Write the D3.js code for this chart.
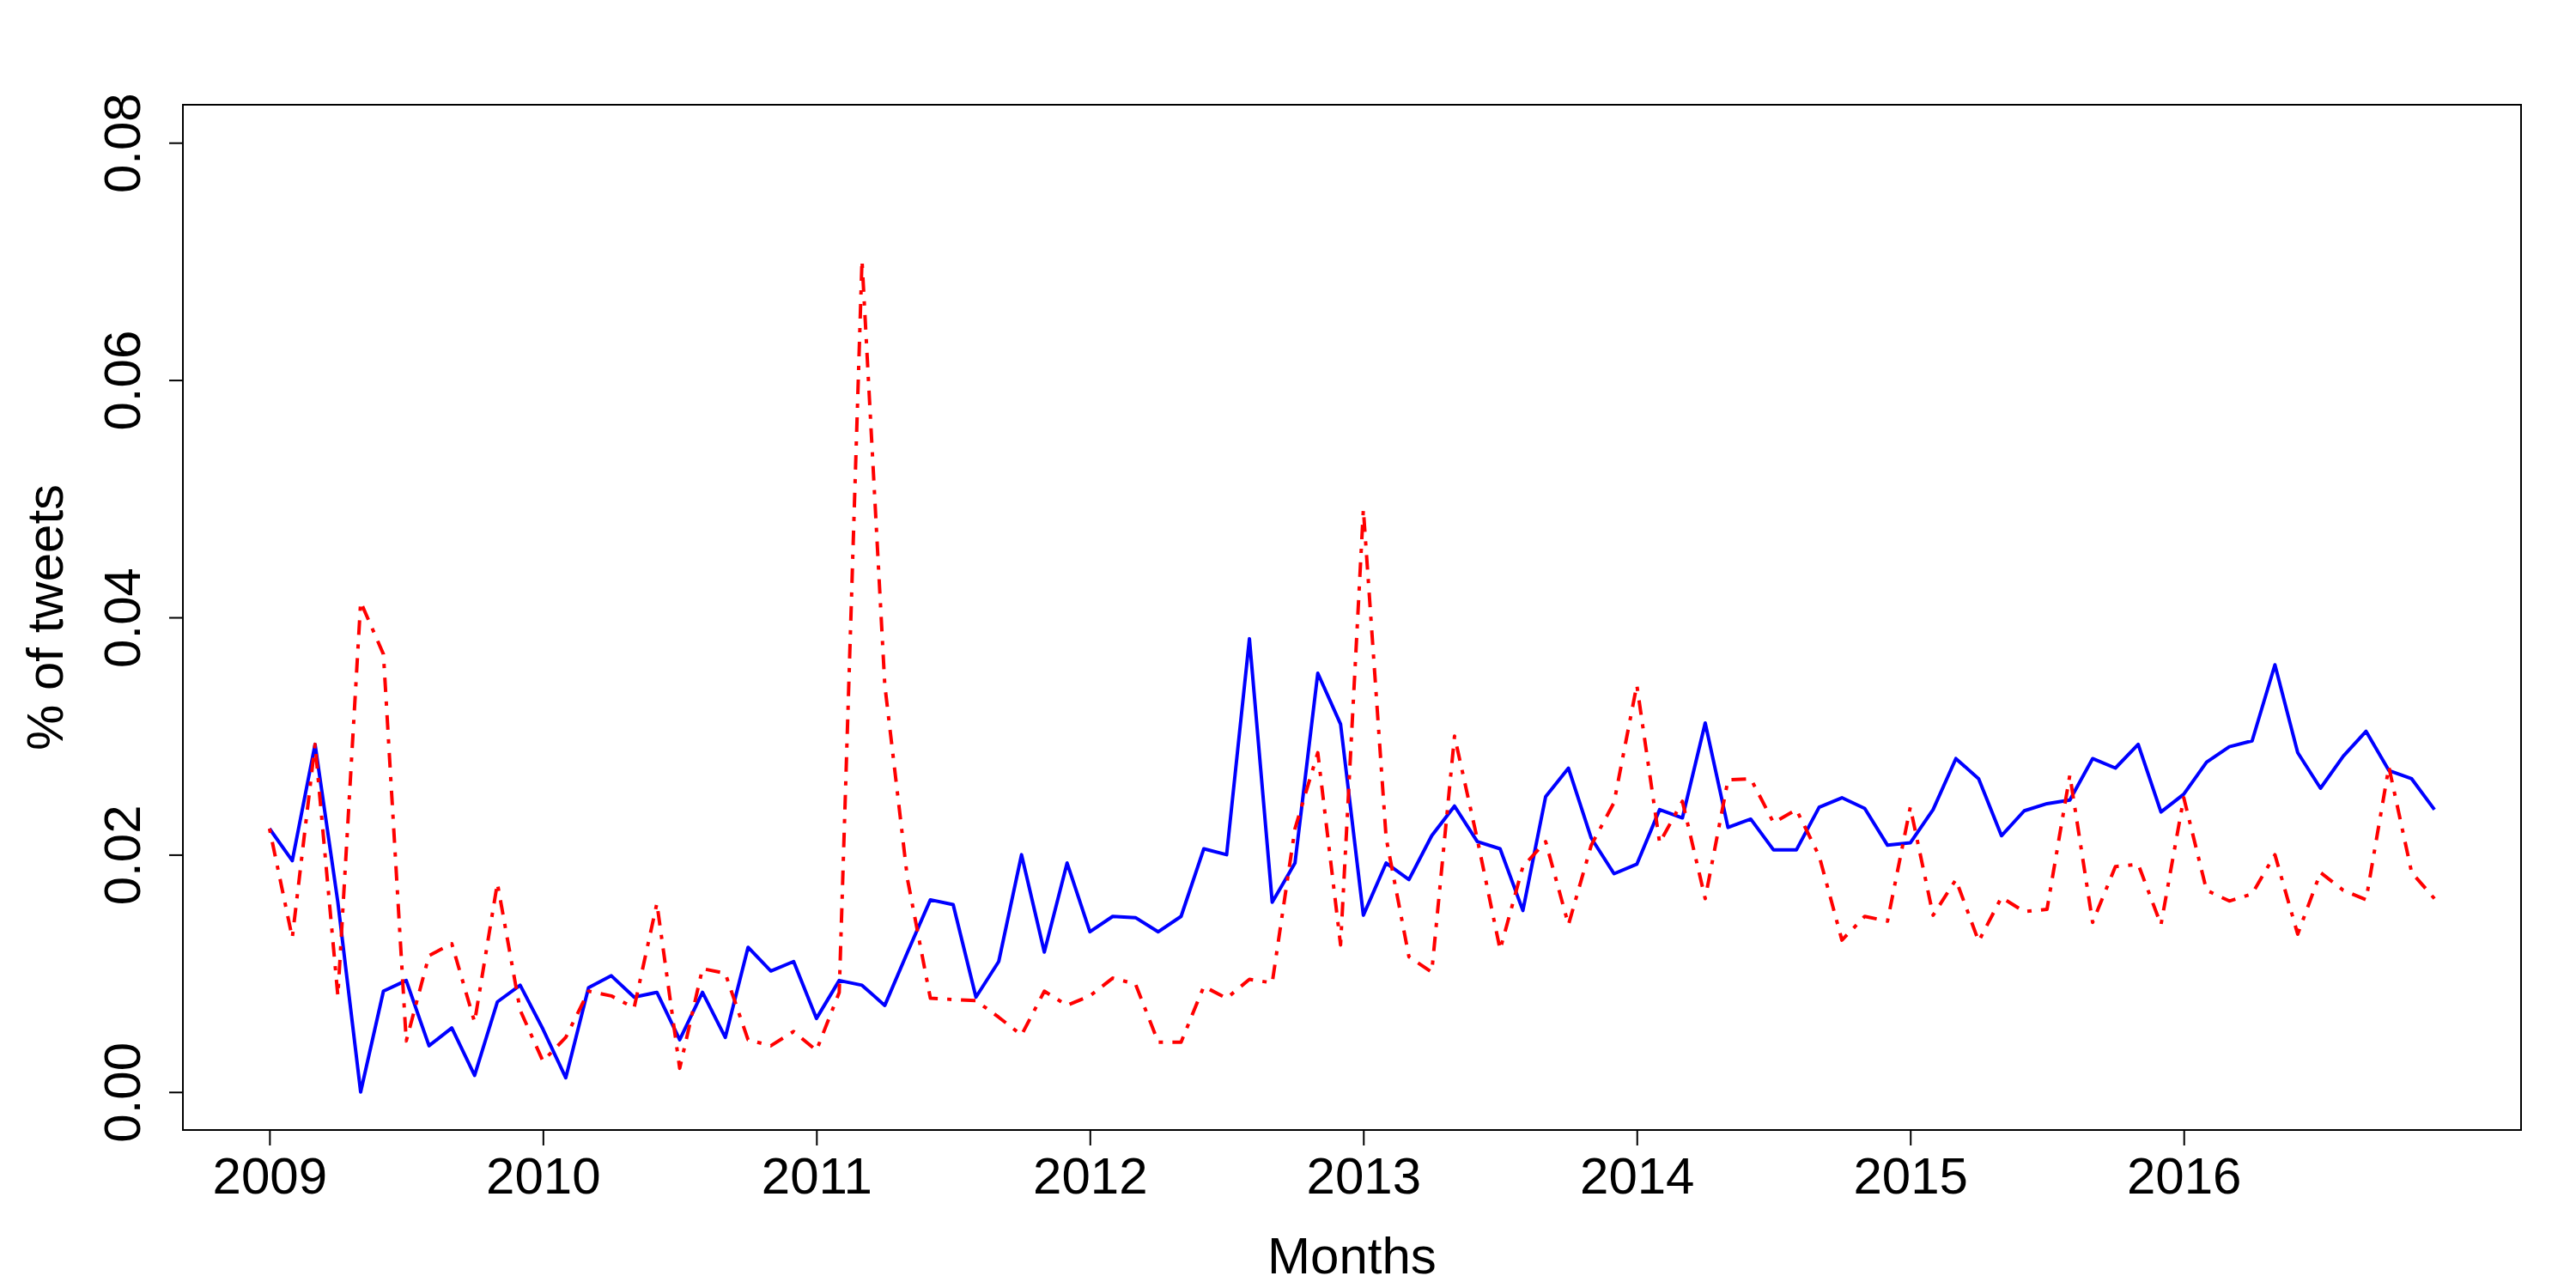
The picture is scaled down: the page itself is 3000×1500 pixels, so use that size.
<!DOCTYPE html>
<html>
<head>
<meta charset="utf-8">
<script src="https://cdn.jsdelivr.net/npm/d3@7"></script>
<style>
  html, body { margin: 0; padding: 0; background: #fff; }
  svg { display: block; }
  text { font-family: "Liberation Sans", Arial, Helvetica, sans-serif; fill: #000; }
</style>
</head>
<body>
<svg id="chart" width="3000" height="1500"></svg>
<script>
// ---- data (monthly, Jan 2009 – Dec 2016) ----
const startYear = 2009;
const yearTicks = [2009, 2010, 2011, 2012, 2013, 2014, 2015, 2016];
const yTicks = [0.00, 0.02, 0.04, 0.06, 0.08];

const seriesBlue = [
  0.0222, 0.0195, 0.0293, 0.0160, 0.0000, 0.0085, 0.0094, 0.0039, 0.0054, 0.0014, 0.0076, 0.0090,
  0.0053, 0.0012, 0.0088, 0.0098, 0.0080, 0.0084, 0.0044, 0.0084, 0.0046, 0.0122, 0.0102, 0.0110,
  0.0062, 0.0094, 0.0090, 0.0073, 0.0118, 0.0162, 0.0158, 0.0080, 0.0110, 0.0200, 0.0118, 0.0193,
  0.0135, 0.0148, 0.0147, 0.0135, 0.0148, 0.0205, 0.0200, 0.0382, 0.0160, 0.0193, 0.0353, 0.0310,
  0.0149, 0.0193, 0.0179, 0.0216, 0.0241, 0.0211, 0.0205, 0.0153, 0.0249, 0.0273, 0.0214, 0.0184,
  0.0192, 0.0238, 0.0231, 0.0311, 0.0223, 0.0230, 0.0204, 0.0204, 0.0240, 0.0248, 0.0239, 0.0208,
  0.0210, 0.0238, 0.0281, 0.0264, 0.0216, 0.0237, 0.0243, 0.0246, 0.0281, 0.0273, 0.0293, 0.0236,
  0.0251, 0.0278, 0.0291, 0.0296, 0.0360, 0.0286, 0.0256, 0.0283, 0.0304, 0.0271, 0.0264, 0.0238
];

const seriesRed = [
  0.0222, 0.0130, 0.0293, 0.0081, 0.0413, 0.0369, 0.0043, 0.0115, 0.0125, 0.0059, 0.0176, 0.0069,
  0.0026, 0.0046, 0.0085, 0.0081, 0.0071, 0.0159, 0.0020, 0.0104, 0.0100, 0.0044, 0.0039, 0.0051,
  0.0035, 0.0084, 0.0701, 0.0343, 0.0179, 0.0079, 0.0078, 0.0077, 0.0063, 0.0048, 0.0085, 0.0073,
  0.0081, 0.0096, 0.0091, 0.0042, 0.0042, 0.0089, 0.0079, 0.0095, 0.0092, 0.0222, 0.0286, 0.0124,
  0.0491, 0.0214, 0.0114, 0.0101, 0.0300, 0.0213, 0.0120, 0.0190, 0.0211, 0.0141, 0.0208, 0.0244,
  0.0343, 0.0210, 0.0245, 0.0163, 0.0263, 0.0264, 0.0227, 0.0238, 0.0199, 0.0128, 0.0148, 0.0144,
  0.0240, 0.0149, 0.0179, 0.0127, 0.0164, 0.0152, 0.0154, 0.0267, 0.0143, 0.0190, 0.0192, 0.0141,
  0.0248, 0.0170, 0.0161, 0.0167, 0.0200, 0.0133, 0.0185, 0.0170, 0.0162, 0.0274, 0.0185, 0.0163
];

const xLabel = "Months";
const yLabel = "% of tweets";

// ---- layout ----
const plot = { left: 213, right: 2936, top: 122, bottom: 1316 };
const fontSize = 60;

const svg = d3.select("#chart");

const t = i => startYear + i / 12;
const tMin = t(0), tMax = t(seriesBlue.length - 1);
const xPad = (tMax - tMin) * 0.04;
const x = d3.scaleLinear().domain([tMin - xPad, tMax + xPad]).range([plot.left, plot.right]);
const yPad = (0.08 - 0) * 0.04;
const y = d3.scaleLinear().domain([0 - yPad, 0.08 + yPad]).range([plot.bottom, plot.top]);

// lines
const line = d3.line().x((d, i) => x(t(i))).y(d => y(d));

svg.append("path")
  .datum(seriesBlue)
  .attr("d", line)
  .attr("fill", "none")
  .attr("stroke", "#0000FF")
  .attr("stroke-width", 4)
  .attr("stroke-linejoin", "round");

svg.append("path")
  .datum(seriesRed)
  .attr("d", line)
  .attr("fill", "none")
  .attr("stroke", "#FF0000")
  .attr("stroke-width", 4)
  .attr("stroke-linejoin", "round")
  .attr("stroke-dasharray", "5,11,17,11");

// box
svg.append("rect")
  .attr("x", plot.left).attr("y", plot.top)
  .attr("width", plot.right - plot.left).attr("height", plot.bottom - plot.top)
  .attr("fill", "none").attr("stroke", "#000").attr("stroke-width", 2);

// x axis
const xAxis = d3.axisBottom(x).tickValues(yearTicks).tickFormat(d3.format("d")).tickSize(18).tickSizeOuter(0);
const gx = svg.append("g").attr("transform", `translate(0,${plot.bottom})`).call(xAxis);
gx.select(".domain").attr("d", `M${x(yearTicks[0])},0H${x(yearTicks[yearTicks.length - 1])}`)
  .attr("stroke", "#000").attr("stroke-width", 2);
gx.selectAll(".tick line").attr("stroke", "#000").attr("stroke-width", 2);
gx.selectAll(".tick text")
  .attr("y", 74).attr("dy", null)
  .attr("font-size", fontSize)
  .attr("font-family", "'Liberation Sans', Arial, sans-serif")
  .attr("fill", "#000");

// y axis
const yAxis = d3.axisLeft(y).tickValues(yTicks).tickFormat(d3.format(".2f")).tickSize(16).tickSizeOuter(0);
const gy = svg.append("g").attr("transform", `translate(${plot.left},0)`).call(yAxis);
gy.select(".domain").attr("d", `M0,${y(yTicks[0])}V${y(yTicks[yTicks.length - 1])}`)
  .attr("stroke", "#000").attr("stroke-width", 2);
gy.selectAll(".tick line").attr("stroke", "#000").attr("stroke-width", 2);
gy.selectAll(".tick text")
  .attr("x", null).attr("dy", null)
  .attr("text-anchor", "middle")
  .attr("transform", `translate(${163 - plot.left},0) rotate(-90)`)
  .attr("font-size", fontSize)
  .attr("font-family", "'Liberation Sans', Arial, sans-serif")
  .attr("fill", "#000");

// axis titles
svg.append("text")
  .attr("x", (plot.left + plot.right) / 2).attr("y", 1483)
  .attr("text-anchor", "middle").attr("font-size", fontSize)
  .text(xLabel);

svg.append("text")
  .attr("transform", `translate(73,${(plot.top + plot.bottom) / 2}) rotate(-90)`)
  .attr("text-anchor", "middle").attr("font-size", fontSize)
  .text(yLabel);
</script>
</body>
</html>
